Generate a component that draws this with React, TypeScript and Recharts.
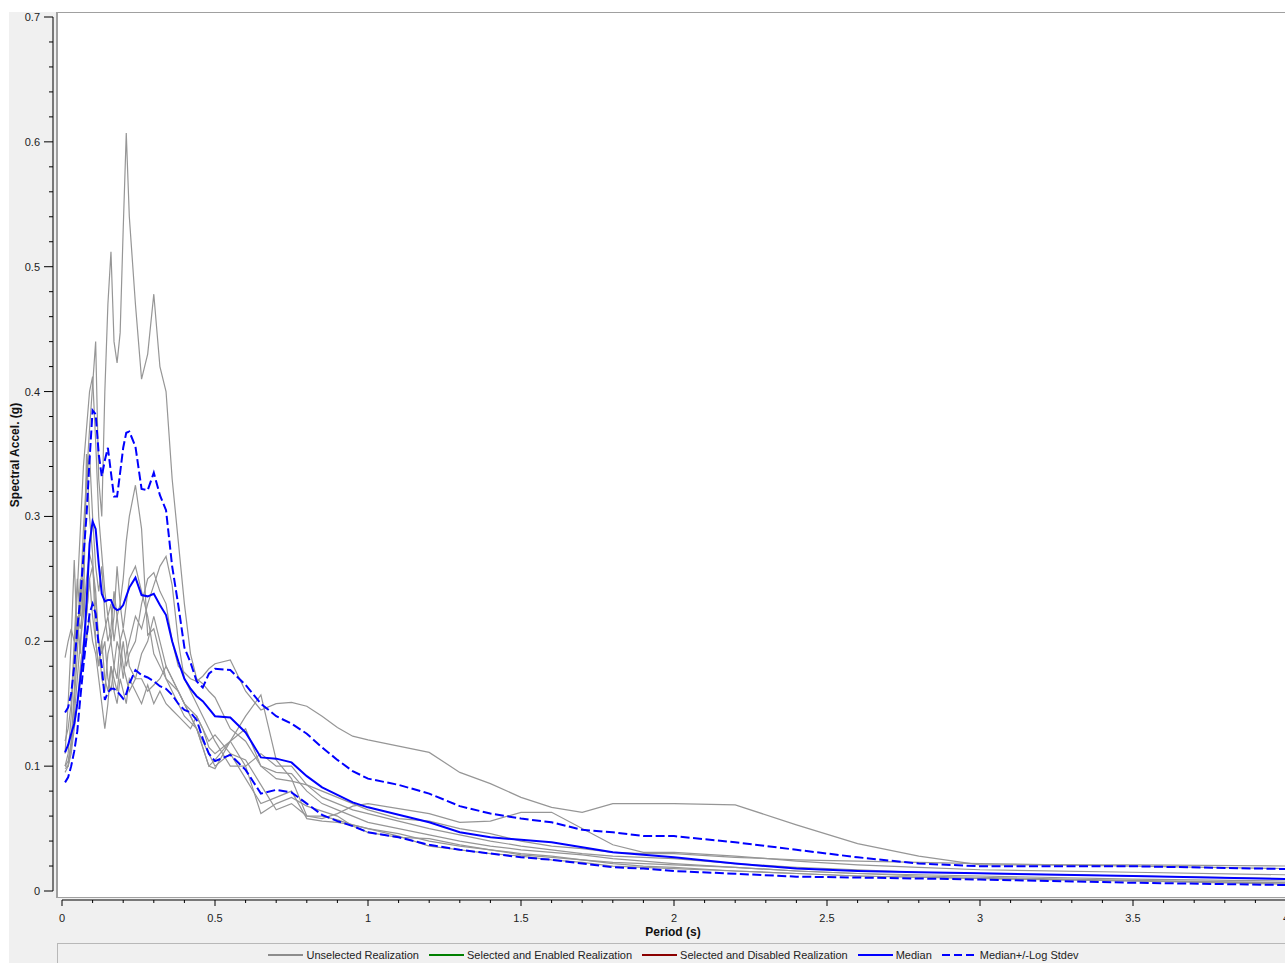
import React from 'react';
import { LineChart, Line, XAxis, YAxis } from 'recharts';

// Spectral period grid (s)
const PERIODS = [
  0.01, 0.02, 0.03, 0.04, 0.05, 0.06, 0.07, 0.08, 0.09, 0.1,
  0.11, 0.12, 0.13, 0.14, 0.15, 0.16, 0.17, 0.18, 0.19, 0.2,
  0.21, 0.22, 0.24, 0.26, 0.28, 0.3, 0.32, 0.34, 0.36, 0.38,
  0.4, 0.42, 0.44, 0.46, 0.48, 0.5, 0.55, 0.6, 0.65, 0.7,
  0.75, 0.8, 0.85, 0.9, 0.95, 1.0, 1.1, 1.2, 1.3, 1.4,
  1.5, 1.6, 1.7, 1.8, 1.9, 2.0, 2.2, 2.4, 2.6, 2.8,
  3.0, 3.5, 4.0,
];

// Unselected realizations, spectral acceleration (g)
const REALIZATION_1 = [
  0.100, 0.104, 0.118, 0.150, 0.190, 0.235, 0.290, 0.330, 0.370, 0.405,
  0.440, 0.330, 0.300, 0.400, 0.470, 0.512, 0.440, 0.423, 0.447, 0.530,
  0.607, 0.540, 0.470, 0.410, 0.430, 0.478, 0.420, 0.400, 0.330, 0.280,
  0.230, 0.190, 0.170, 0.166, 0.160, 0.155, 0.130, 0.120, 0.100, 0.095,
  0.094, 0.080, 0.070, 0.065, 0.060, 0.055, 0.050, 0.045, 0.040, 0.036,
  0.033, 0.031, 0.029, 0.026, 0.024, 0.022, 0.019, 0.016, 0.014, 0.013,
  0.012, 0.0095, 0.008,
];
const REALIZATION_2 = [
  0.100, 0.110, 0.140, 0.190, 0.240, 0.290, 0.340, 0.370, 0.400, 0.412,
  0.360, 0.300, 0.270, 0.240, 0.220, 0.230, 0.200, 0.220, 0.230, 0.250,
  0.280, 0.300, 0.325, 0.290, 0.205, 0.210, 0.190, 0.170, 0.160, 0.150,
  0.140, 0.135, 0.130, 0.120, 0.110, 0.100, 0.110, 0.105, 0.085, 0.065,
  0.070, 0.060, 0.060, 0.057, 0.053, 0.050, 0.046, 0.040, 0.036, 0.033,
  0.030, 0.028, 0.025, 0.022, 0.020, 0.019, 0.016, 0.014, 0.012, 0.011,
  0.010, 0.008, 0.0065,
];
const REALIZATION_3 = [
  0.095, 0.100, 0.115, 0.140, 0.170, 0.200, 0.220, 0.250, 0.270, 0.260,
  0.240, 0.200, 0.190, 0.200, 0.170, 0.160, 0.180, 0.200, 0.190, 0.170,
  0.190, 0.200, 0.220, 0.210, 0.230, 0.245, 0.260, 0.268, 0.245, 0.200,
  0.170, 0.160, 0.150, 0.140, 0.130, 0.120, 0.100, 0.100, 0.110, 0.100,
  0.100, 0.085, 0.075, 0.070, 0.065, 0.062, 0.056, 0.050, 0.045, 0.040,
  0.036, 0.033, 0.030, 0.028, 0.027, 0.026, 0.022, 0.019, 0.017, 0.015,
  0.014, 0.012, 0.010,
];
const REALIZATION_4 = [
  0.187, 0.200, 0.210, 0.200, 0.220, 0.210, 0.230, 0.220, 0.250, 0.220,
  0.200, 0.180, 0.200, 0.170, 0.160, 0.180, 0.170, 0.160, 0.180, 0.200,
  0.180, 0.190, 0.200, 0.230, 0.250, 0.255, 0.240, 0.230, 0.200, 0.180,
  0.175, 0.170, 0.168, 0.172, 0.178, 0.182, 0.185, 0.160, 0.145, 0.150,
  0.151, 0.148, 0.140, 0.131, 0.124, 0.121, 0.116, 0.111, 0.095, 0.086,
  0.075, 0.067, 0.063, 0.070, 0.070, 0.070, 0.069, 0.053, 0.038, 0.028,
  0.021, 0.021, 0.020,
];
const REALIZATION_5 = [
  0.120, 0.130, 0.150, 0.200, 0.250, 0.220, 0.260, 0.330, 0.350, 0.300,
  0.260, 0.240, 0.260, 0.220, 0.200, 0.210, 0.240, 0.220, 0.200, 0.180,
  0.170, 0.160, 0.170, 0.190, 0.200, 0.220, 0.200, 0.180, 0.170, 0.160,
  0.150, 0.140, 0.130, 0.115, 0.100, 0.098, 0.120, 0.140, 0.157, 0.105,
  0.090, 0.060, 0.058, 0.062, 0.068, 0.070, 0.066, 0.062, 0.055, 0.056,
  0.063, 0.063, 0.050, 0.037, 0.031, 0.031, 0.028, 0.024, 0.021, 0.019,
  0.017, 0.015, 0.013,
];
const REALIZATION_6 = [
  0.100, 0.100, 0.110, 0.130, 0.150, 0.180, 0.200, 0.220, 0.250, 0.260,
  0.230, 0.200, 0.170, 0.160, 0.190, 0.200, 0.220, 0.260, 0.230, 0.210,
  0.230, 0.250, 0.260, 0.240, 0.220, 0.190, 0.180, 0.170, 0.165, 0.160,
  0.150, 0.140, 0.130, 0.115, 0.100, 0.105, 0.120, 0.100, 0.062, 0.070,
  0.075, 0.068, 0.064, 0.060, 0.052, 0.047, 0.043, 0.042, 0.037, 0.033,
  0.029, 0.027, 0.025, 0.023, 0.022, 0.021, 0.019, 0.016, 0.014, 0.012,
  0.011, 0.0085, 0.0065,
];
const REALIZATION_7 = [
  0.110, 0.150, 0.200, 0.265, 0.200, 0.250, 0.220, 0.350, 0.300, 0.270,
  0.200, 0.180, 0.200, 0.210, 0.220, 0.200, 0.180, 0.170, 0.200, 0.210,
  0.200, 0.180, 0.170, 0.170, 0.160, 0.165, 0.170, 0.180, 0.170, 0.160,
  0.150, 0.145, 0.140, 0.130, 0.115, 0.110, 0.120, 0.130, 0.100, 0.090,
  0.088, 0.085, 0.080, 0.075, 0.070, 0.065, 0.058, 0.056, 0.050, 0.046,
  0.040, 0.036, 0.034, 0.031, 0.030, 0.030, 0.027, 0.025, 0.024, 0.023,
  0.022, 0.020, 0.018,
];
const REALIZATION_8 = [
  0.098, 0.100, 0.120, 0.160, 0.220, 0.190, 0.250, 0.200, 0.220, 0.200,
  0.190, 0.170, 0.150, 0.130, 0.150, 0.180, 0.160, 0.150, 0.170, 0.160,
  0.150, 0.170, 0.160, 0.150, 0.165, 0.150, 0.160, 0.150, 0.145, 0.140,
  0.135, 0.130, 0.140, 0.130, 0.120, 0.125, 0.110, 0.090, 0.070, 0.075,
  0.080, 0.058, 0.056, 0.055, 0.053, 0.050, 0.044, 0.036, 0.033, 0.030,
  0.028, 0.025, 0.023, 0.020, 0.019, 0.018, 0.016, 0.014, 0.012, 0.011,
  0.010, 0.008, 0.0055,
];

// Summary statistics (g)
const MEDIAN = [
  0.111, 0.117, 0.126, 0.134, 0.150, 0.170, 0.190, 0.230, 0.278, 0.296,
  0.290, 0.262, 0.238, 0.232, 0.233, 0.233, 0.227, 0.225, 0.226, 0.229,
  0.236, 0.243, 0.251, 0.237, 0.236, 0.238, 0.229, 0.221, 0.200, 0.184,
  0.170, 0.162, 0.156, 0.152, 0.146, 0.140, 0.139, 0.127, 0.107, 0.106,
  0.103, 0.092, 0.083, 0.077, 0.071, 0.067, 0.061, 0.055, 0.047, 0.043,
  0.041, 0.039, 0.035, 0.031, 0.029, 0.027, 0.022, 0.018, 0.016, 0.015,
  0.0142, 0.012, 0.0096,
];
const MEDIAN_PLUS_STDEV = [
  0.143, 0.147, 0.158, 0.180, 0.210, 0.235, 0.268, 0.300, 0.345, 0.385,
  0.382, 0.350, 0.332, 0.345, 0.355, 0.335, 0.316, 0.316, 0.335, 0.355,
  0.367, 0.368, 0.356, 0.322, 0.321, 0.335, 0.317, 0.305, 0.260, 0.229,
  0.195, 0.183, 0.168, 0.163, 0.174, 0.178, 0.177, 0.165, 0.150, 0.140,
  0.134, 0.126, 0.115, 0.105, 0.096, 0.090, 0.085, 0.078, 0.068, 0.062,
  0.058, 0.055, 0.049, 0.047, 0.044, 0.044, 0.039, 0.033, 0.027, 0.022,
  0.0198, 0.0198, 0.0176,
];
const MEDIAN_MINUS_STDEV = [
  0.087, 0.091, 0.100, 0.112, 0.128, 0.155, 0.180, 0.203, 0.222, 0.230,
  0.222, 0.196, 0.180, 0.153, 0.159, 0.162, 0.162, 0.160, 0.157, 0.154,
  0.158, 0.166, 0.177, 0.173, 0.171, 0.168, 0.164, 0.162, 0.157, 0.150,
  0.145, 0.143, 0.137, 0.122, 0.110, 0.104, 0.109, 0.097, 0.078, 0.081,
  0.079, 0.070, 0.061, 0.056, 0.052, 0.047, 0.043, 0.037, 0.033, 0.030,
  0.027, 0.025, 0.022, 0.019, 0.018, 0.016, 0.0138, 0.0115, 0.0108, 0.0100,
  0.0092, 0.0066, 0.0048,
];

const REALIZATIONS = [
  REALIZATION_1, REALIZATION_2, REALIZATION_3, REALIZATION_4,
  REALIZATION_5, REALIZATION_6, REALIZATION_7, REALIZATION_8,
];

// Axis ticks: x every 0.1 s (labelled every 0.5), y every 0.02 g (labelled every 0.1)
const X_TICKS = [
  0, 0.1, 0.2, 0.3, 0.4, 0.5, 0.6, 0.7, 0.8, 0.9,
  1, 1.1, 1.2, 1.3, 1.4, 1.5, 1.6, 1.7, 1.8, 1.9,
  2, 2.1, 2.2, 2.3, 2.4, 2.5, 2.6, 2.7, 2.8, 2.9,
  3, 3.1, 3.2, 3.3, 3.4, 3.5, 3.6, 3.7, 3.8, 3.9, 4,
];
const Y_TICKS = [
  0, 0.02, 0.04, 0.06, 0.08, 0.1, 0.12, 0.14, 0.16, 0.18,
  0.2, 0.22, 0.24, 0.26, 0.28, 0.3, 0.32, 0.34, 0.36, 0.38,
  0.4, 0.42, 0.44, 0.46, 0.48, 0.5, 0.52, 0.54, 0.56, 0.58,
  0.6, 0.62, 0.64, 0.66, 0.68, 0.7,
];

const LEGEND_ITEMS = [
  { label: 'Unselected Realization', color: '#8c8c8c', dashed: false },
  { label: 'Selected and Enabled Realization', color: '#008000', dashed: false },
  { label: 'Selected and Disabled Realization', color: '#8b0000', dashed: false },
  { label: 'Median', color: '#0000ff', dashed: false },
  { label: 'Median+/-Log Stdev', color: '#0000ff', dashed: true },
];

const FONT = '"Liberation Sans", Arial, sans-serif';
const GREY = '#969696';
const BLUE = '#0000ff';
// axes sit a little away from the plot frame
const AXIS_GAP = 9;

const rows = PERIODS.map((period, i) => {
  const row: Record<string, number> = {
    period,
    median: MEDIAN[i],
    plus: MEDIAN_PLUS_STDEV[i],
    minus: MEDIAN_MINUS_STDEV[i],
  };
  REALIZATIONS.forEach((r, k) => {
    row[`r${k}`] = r[i];
  });
  return row;
});

const XTick = (props: any) => {
  const { x, y, payload } = props;
  const v = payload.value as number;
  const major = Math.round(v * 10) % 5 === 0;
  const base = y + AXIS_GAP;
  return (
    <g>
      <line x1={x} x2={x} y1={base} y2={base + (major ? 6 : 3)} stroke="#000" strokeWidth={1} />
      {major && (
        <text x={x} y={base + 22} textAnchor="middle" fontSize={11} fontFamily={FONT} fill="#222">
          {String(v)}
        </text>
      )}
    </g>
  );
};

const YTick = (props: any) => {
  const { x, y, payload } = props;
  const v = payload.value as number;
  const major = Math.round(v * 100) % 10 === 0;
  const base = x - AXIS_GAP;
  return (
    <g>
      <line x1={base - (major ? 9 : 4)} x2={base} y1={y} y2={y} stroke="#000" strokeWidth={1} />
      {major && (
        <text x={base - 13} y={y + 4} textAnchor="end" fontSize={11} fontFamily={FONT} fill="#222">
          {String(v)}
        </text>
      )}
    </g>
  );
};

const LegendBar = () => (
  <div
    style={{
      position: 'absolute',
      left: 57,
      top: 943,
      width: 1233,
      height: 24,
      boxSizing: 'border-box',
      border: '1px solid #b8b8b8',
      background: '#f0f0f0',
      display: 'flex',
      justifyContent: 'center',
      alignItems: 'center',
      gap: 10,
      fontFamily: FONT,
      fontSize: 11,
      color: '#222',
    }}
  >
    {LEGEND_ITEMS.map((item) => (
      <div key={item.label} style={{ display: 'flex', alignItems: 'center' }}>
        <svg width={35} height={10} style={{ marginRight: 3 }}>
          <line
            x1={0}
            x2={35}
            y1={5}
            y2={5}
            stroke={item.color}
            strokeWidth={2}
            strokeDasharray={item.dashed ? '8 4' : undefined}
          />
        </svg>
        <span style={{ whiteSpace: 'nowrap' }}>{item.label}</span>
      </div>
    ))}
  </div>
);

export default function App() {
  return (
    <div
      style={{
        position: 'absolute',
        left: 0,
        top: 0,
        width: 1285,
        height: 963,
        overflow: 'hidden',
        background: '#ffffff',
      }}
    >
      <style>{`
        .x-axis-line { transform: translate(0px, ${AXIS_GAP}px); }
        .y-axis-line { transform: translate(-${AXIS_GAP}px, 0px); }
      `}</style>
      {/* grey panel */}
      <div style={{ position: 'absolute', left: 9, top: 12, right: 0, bottom: 0, background: '#f0f0f0' }} />
      {/* plot frame */}
      <div
        style={{
          position: 'absolute',
          left: 56,
          top: 12,
          width: 1240,
          height: 886,
          boxSizing: 'border-box',
          background: '#ffffff',
          borderTop: '1px solid #a0a0a0',
          borderLeft: '2px solid #a0a0a0',
          borderBottom: '1px solid #a0a0a0',
        }}
      />
      <div style={{ position: 'absolute', left: 0, top: 0 }}>
        <LineChart
          width={1296}
          height={963}
          data={rows}
          margin={{ top: 17, right: 10, bottom: 42, left: 12 }}
        >
          <XAxis
            dataKey="period"
            type="number"
            domain={[0, 4]}
            ticks={X_TICKS}
            interval={0}
            height={30}
            tickSize={0}
            tickMargin={0}
            tickLine={false}
            axisLine={{ stroke: '#000', strokeWidth: 1, className: 'x-axis-line' }}
            tick={<XTick />}
          />
          <YAxis
            type="number"
            domain={[0, 0.7]}
            ticks={Y_TICKS}
            interval={0}
            width={50}
            tickSize={0}
            tickMargin={0}
            tickLine={false}
            axisLine={{ stroke: '#000', strokeWidth: 1, className: 'y-axis-line' }}
            tick={<YTick />}
          />
          {REALIZATIONS.map((_, k) => (
            <Line
              key={`r${k}`}
              dataKey={`r${k}`}
              type="linear"
              stroke={GREY}
              strokeWidth={1.2}
              dot={false}
              activeDot={false}
              isAnimationActive={false}
            />
          ))}
          <Line dataKey="plus" type="linear" stroke={BLUE} strokeWidth={2} strokeDasharray="9 3.5" dot={false} activeDot={false} isAnimationActive={false} />
          <Line dataKey="minus" type="linear" stroke={BLUE} strokeWidth={2} strokeDasharray="9 3.5" dot={false} activeDot={false} isAnimationActive={false} />
          <Line dataKey="median" type="linear" stroke={BLUE} strokeWidth={2} dot={false} activeDot={false} isAnimationActive={false} />
        </LineChart>
      </div>
      {/* axis titles */}
      <div
        style={{
          position: 'absolute',
          left: 15,
          top: 455,
          transform: 'translate(-50%, -50%) rotate(-90deg)',
          whiteSpace: 'nowrap',
          fontFamily: FONT,
          fontSize: 12,
          fontWeight: 'bold',
          color: '#111',
        }}
      >
        Spectral Accel. (g)
      </div>
      <div
        style={{
          position: 'absolute',
          left: 673,
          top: 932,
          transform: 'translate(-50%, -50%)',
          whiteSpace: 'nowrap',
          fontFamily: FONT,
          fontSize: 12,
          fontWeight: 'bold',
          color: '#111',
        }}
      >
        Period (s)
      </div>
      <LegendBar />
    </div>
  );
}
